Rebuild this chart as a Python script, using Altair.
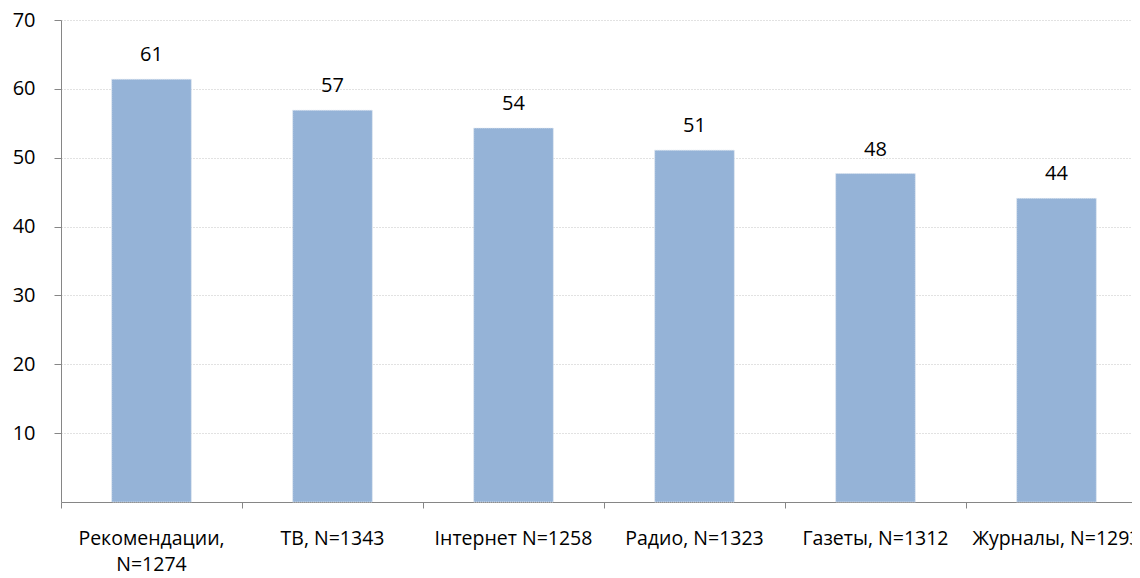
import altair as alt
import pandas as pd

categories = ["Рекомендации,|N=1274", "ТВ, N=1343", "Інтернет N=1258",
              "Радио, N=1323", "Газеты, N=1312", "Журналы, N=1293"]
values = [61.4, 56.9, 54.3, 51.1, 47.7, 44.1]
y_ticks = [10, 20, 30, 40, 50, 60, 70]

df = pd.DataFrame({"cat": categories, "val": values})

FONT = "Open Sans"
GRAY = "#868686"

x = alt.X(
    "cat:N", sort=categories, title=None,
    scale=alt.Scale(range=[0, 1086], paddingInner=0, paddingOuter=0),
    axis=alt.Axis(
        labelAngle=0, labelExpr="split(datum.label, '|')",
        labelFont=FONT, labelFontSize=19.5, labelColor="#000000",
        labelLineHeight=26, labelPadding=21, labelBaseline="top",
        domainColor=GRAY, tickColor=GRAY, tickSize=6, bandPosition=0,
        labelBound=False, labelOverlap=False,
    ),
)
y = alt.Y(
    "val:Q", title=None,
    scale=alt.Scale(domain=[0, 70], nice=False),
    axis=alt.Axis(
        values=y_ticks, labelFont=FONT, labelFontSize=20, labelColor="#000000",
        labelPadding=19, tickSize=7, tickColor=GRAY, domainColor=GRAY,
        grid=True, gridColor="#c4c4c4", gridDash=[1, 2], gridWidth=1,
    ),
)

bars = alt.Chart(df).mark_bar(
    color="#95B3D7", width=alt.RelativeBandSize(0.44),
    stroke="#dfe6ef", strokeWidth=1, strokeDash=[1, 1],
).encode(x=x, y=y)

labels = alt.Chart(df).mark_text(
    font=FONT, fontSize=20, color="#000000", baseline="middle", dy=-24,
).encode(x=alt.X("cat:N", sort=categories), y="val:Q",
         text=alt.Text("val:Q", format=".0f"))

chart = (bars + labels).properties(
    width=1071, height=482,
    autosize=alt.AutoSizeParams(type="none"),
    padding={"left": 53, "top": 12, "right": 0, "bottom": 76},
).configure_view(stroke=None)

chart.save("out.html", embed_options={"renderer": "svg", "actions": False})
